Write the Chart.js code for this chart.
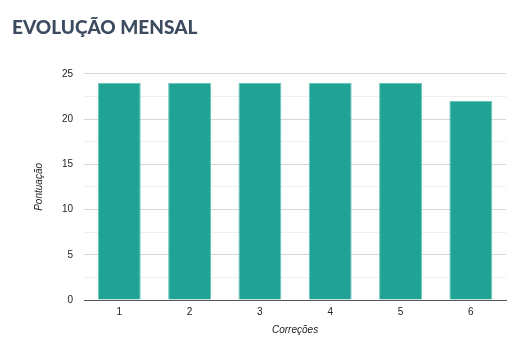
<!DOCTYPE html>
<html>
<head>
<meta charset="utf-8">
<script src="https://cdn.jsdelivr.net/npm/chart.js@4"></script>
<style>
  html, body { margin: 0; padding: 0; background: #fff; }
  canvas { display: block; }
</style>
</head>
<body>
<canvas id="chart" width="520" height="354"></canvas>
<script>
var categories = ['1', '2', '3', '4', '5', '6'];
var scores = [24, 24, 24, 24, 24, 22];
var yTicks = [0, 5, 10, 15, 20, 25];

var ctx = document.getElementById('chart').getContext('2d');

var chart = new Chart(ctx, {
    type: 'bar',
    data: {
        labels: categories,
        datasets: [{
            label: 'Pontuação',
            data: scores,
            backgroundColor: '#20a295',
            borderColor: '#6cc4b9',
            borderWidth: 1,
            barPercentage: 0.61,
            categoryPercentage: 1
        }]
    },
    options: {
        responsive: false,
        animation: false,
        layout: { padding: { left: 12, right: 14, top: 0, bottom: 14 } },
        plugins: {
            legend: { display: false },
            tooltip: { enabled: false },
            title: {
                display: true,
                text: 'EVOLUÇÃO MENSAL',
                align: 'start',
                color: '#3c4b5f',
                font: { family: 'Lato', size: 19, weight: '900' },
                padding: { top: 16, bottom: 35 }
            }
        },
        scales: {
            x: {
                offset: true,
                grid: { display: false, drawTicks: false },
                border: { color: '#555', width: 1 },
                ticks: { color: '#222', font: { family: 'Arial', size: 10 }, padding: 6 },
                title: {
                    display: true,
                    text: 'Correções',
                    color: '#222',
                    font: { family: 'Arial', size: 10, style: 'italic' },
                    padding: { top: 0 }
                }
            },
            y: {
                min: 0,
                max: 25,
                border: { display: false },
                grid: {
                    drawTicks: false,
                    color: function (c) {
                        return yTicks.indexOf(c.tick.value) >= 0 ? '#d6d6d6' : '#efefef';
                    }
                },
                ticks: {
                    stepSize: 2.5,
                    color: '#222',
                    font: { family: 'Arial', size: 10 },
                    padding: 11,
                    callback: function (v) {
                        return yTicks.indexOf(v) >= 0 ? v : '';
                    }
                },
                title: {
                    display: true,
                    text: 'Pontuação',
                    color: '#222',
                    font: { family: 'Arial', size: 10, style: 'italic' },
                    padding: { top: 21, bottom: 6 }
                }
            }
        }
    }
});
</script>
</body>
</html>
